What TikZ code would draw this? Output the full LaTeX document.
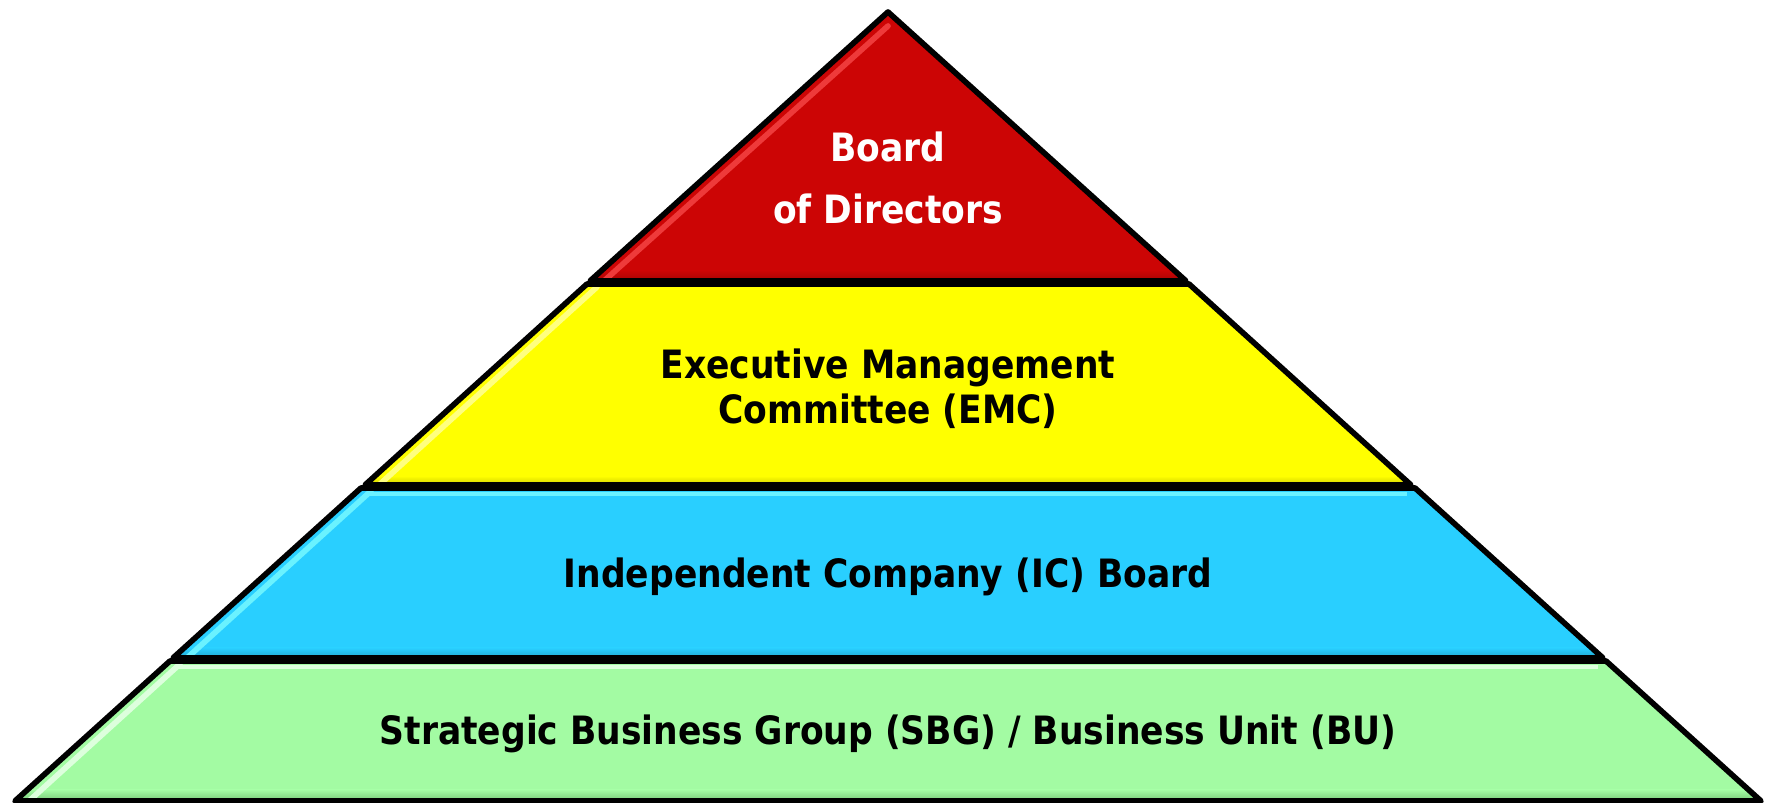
\documentclass[tikz,border=0pt]{standalone}
\usepackage{fontspec}
\newfontfamily\labelfont{DejaVu Sans}[FakeStretch=0.885]
\begin{document}
\begin{tikzpicture}[x=1cm,y=1cm,
  layerline/.style={draw=black,line width=1.6pt,line join=round},
  lbl/.style={font=\labelfont\bfseries\fontsize{11.1pt}{13pt}\selectfont,anchor=base,inner sep=0pt}]
\definecolor{redL}{HTML}{CC0505}
\definecolor{redHi}{HTML}{EE3A3A}
\definecolor{redLo}{HTML}{A80404}
\definecolor{yelL}{HTML}{FFFF00}
\definecolor{yelHi}{HTML}{FFFF80}
\definecolor{yelLo}{HTML}{D0D000}
\definecolor{bluL}{HTML}{29CFFF}
\definecolor{bluHi}{HTML}{6AF2FF}
\definecolor{bluLo}{HTML}{20A8D0}
\definecolor{grnL}{HTML}{A3FBA3}
\definecolor{grnHi}{HTML}{DDFFDD}
\definecolor{grnLo}{HTML}{78C878}
\useasboundingbox (0,0) rectangle (17.71,8.03);

% corner points of the four layers
\coordinate (rT) at (8.88,7.91);
\coordinate (rBL) at (5.90,5.22);
\coordinate (rBR) at (11.86,5.22);
\coordinate (yTL) at (5.87,5.19);
\coordinate (yTR) at (11.89,5.19);
\coordinate (yBL) at (3.65,3.18);
\coordinate (yBR) at (14.11,3.18);
\coordinate (bTL) at (3.61,3.15);
\coordinate (bTR) at (14.15,3.15);
\coordinate (bBL) at (1.73,1.45);
\coordinate (bBR) at (16.03,1.45);
\coordinate (gTL) at (1.70,1.42);
\coordinate (gTR) at (16.06,1.42);
\coordinate (gBL) at (0.15,0.02);
\coordinate (gBR) at (17.61,0.02);

% green base layer
\fill[grnL] (gTL) -- (gTR) -- (gBR) -- (gBL) -- cycle;
\begin{scope}
  \clip (gTL) -- (gTR) -- (gBR) -- (gBL) -- cycle;
  \shade[top color=grnL,bottom color=grnLo] (0,0.02) rectangle (17.71,0.13);
  \draw[grnHi,line width=1.6pt,line cap=round] ([shift={(0.10,-0.03)}]gTL) -- ([shift={(0.14,0.0)}]gBL);
  \draw[grnHi,line width=1.2pt] ([shift={(0.08,-0.06)}]gTL) -- ([shift={(-0.08,-0.06)}]gTR);
\end{scope}
\draw[layerline] (gTL) -- (gTR) -- (gBR) -- (gBL) -- cycle;

% blue layer
\fill[bluL] (bTL) -- (bTR) -- (bBR) -- (bBL) -- cycle;
\begin{scope}
  \clip (bTL) -- (bTR) -- (bBR) -- (bBL) -- cycle;
  \shade[top color=bluL,bottom color=bluLo] (0,1.45) rectangle (17.71,1.55);
  \draw[bluHi,line width=1.6pt,line cap=round] ([shift={(0.10,-0.03)}]bTL) -- ([shift={(0.14,0.0)}]bBL);
  \draw[bluHi,line width=1.2pt] ([shift={(0.08,-0.06)}]bTL) -- ([shift={(-0.08,-0.06)}]bTR);
\end{scope}
\draw[layerline] (bTL) -- (bTR) -- (bBR) -- (bBL) -- cycle;

% yellow layer
\fill[yelL] (yTL) -- (yTR) -- (yBR) -- (yBL) -- cycle;
\begin{scope}
  \clip (yTL) -- (yTR) -- (yBR) -- (yBL) -- cycle;
  \shade[top color=yelL,bottom color=yelLo] (0,3.18) rectangle (17.71,3.27);
  \draw[yelHi,line width=1.6pt,line cap=round] ([shift={(0.10,-0.03)}]yTL) -- ([shift={(0.14,0.0)}]yBL);
\end{scope}
\draw[layerline] (yTL) -- (yTR) -- (yBR) -- (yBL) -- cycle;

% red top layer
\fill[redL] (rT) -- (rBR) -- (rBL) -- cycle;
\begin{scope}
  \clip (rT) -- (rBR) -- (rBL) -- cycle;
  \shade[top color=redL,bottom color=redLo] (0,5.22) rectangle (17.71,5.32);
  \draw[redHi,line width=1.6pt,line cap=round] ([shift={(0.0,-0.14)}]rT) -- ([shift={(0.14,0.0)}]rBL);
\end{scope}
\draw[layerline] (rT) -- (rBR) -- (rBL) -- cycle;

% labels
\node[lbl,text=white] (bod1) at (8.88,6.41) {Board};
\node[lbl,text=white] (bod2) at (8.88,5.79) {of Directors};
\node[lbl] (emc1) at (8.88,4.24) {Executive Management};
\node[lbl] (emc2) at (8.88,3.79) {Committee (EMC)};
\node[lbl] (icb) at (8.88,2.15) {Independent Company (IC) Board};
\node[lbl] (sbg) at (8.88,0.58) {Strategic Business Group (SBG) / Business Unit (BU)};
\end{tikzpicture}
\end{document}
